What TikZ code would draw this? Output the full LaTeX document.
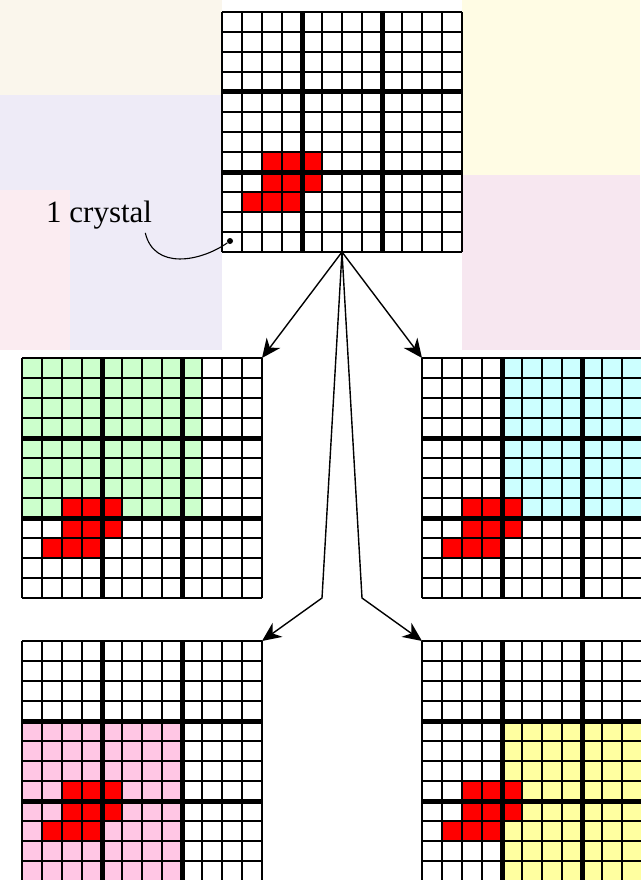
\documentclass[tikz,border=0pt]{standalone}
\usepackage{fontspec}
\setmainfont{Liberation Serif}
\usetikzlibrary{arrows.meta,calc,positioning}

\definecolor{winGreen}{RGB}{204,255,204}
\definecolor{winCyan}{RGB}{204,255,255}
\definecolor{winPink}{RGB}{255,198,228}
\definecolor{winYellow}{RGB}{255,255,160}
\definecolor{bgCream}{RGB}{250,246,236}
\definecolor{bgLavender}{RGB}{238,235,247}
\definecolor{bgPink}{RGB}{251,236,241}
\definecolor{bgYellow}{RGB}{255,252,228}
\definecolor{bgRose}{RGB}{247,231,240}

% 12x12 crystal lattice with the 3x3 block grid drawn on top
\newcommand\crystalgrid[1]{%
  \foreach \c/\r in {2/7,3/7,4/7,2/8,3/8,4/8,1/9,2/9,3/9}
    \fill[red] ($(#1.north west)+(20*\c,20*\r)$) rectangle ++(20,20);
  \foreach \k in {0,...,12} {
    \draw[thin grid] ($(#1.north west)+(20*\k,0)$) -- ++(0,240);
    \draw[thin grid] ($(#1.north west)+(0,20*\k)$) -- ++(240,0);
  }
  \foreach \k in {4,8} {
    \draw[thick grid] ($(#1.north west)+(20*\k,0)$) -- ++(0,240);
    \draw[thick grid] ($(#1.north west)+(0,20*\k)$) -- ++(240,0);
  }
}

\begin{document}
\begin{tikzpicture}[
  x=1pt, y=-1pt,
  frame/.style={minimum size=240pt, inner sep=0pt, outer sep=0pt, anchor=north west},
  thin grid/.style={draw=black, line width=1.4pt},
  thick grid/.style={draw=black, line width=5pt},
  arrow/.style={-{Stealth[length=19pt,width=17pt,inset=6pt]}, line width=1.4pt, draw=black},
  leader/.style={line width=1.1pt, draw=black}
]
  \useasboundingbox (0,0) rectangle (640,880);

  % faint backdrop
  \fill[bgCream] (0,0) rectangle (222,95);
  \fill[bgLavender] (0,95) rectangle (222,350);
  \fill[bgPink] (0,190) rectangle (70,350);
  \fill[bgYellow] (462,0) rectangle (640,175);
  \fill[bgRose] (462,175) rectangle (640,350);

  \node[frame] (whole) at (222,12) {};
  \node[frame] (topLeft) at (22,358) {};
  \node[frame] (topRight) at (422,358) {};
  \node[frame] (botLeft) at (22,641) {};
  \node[frame] (botRight) at (422,641) {};

  % search windows
  \fill[white] (whole.north west) rectangle (whole.south east);
  \fill[white] (topLeft.north west) rectangle (topLeft.south east);
  \fill[winGreen] (topLeft.north west) rectangle ++(180,160);
  \fill[white] (topRight.north west) rectangle (topRight.south east);
  \fill[winCyan] ($(topRight.north west)+(80,0)$) rectangle ++(160,160);
  \fill[white] (botLeft.north west) rectangle (botLeft.south east);
  \fill[winPink] ($(botLeft.north west)+(0,80)$) rectangle ++(160,160);
  \fill[white] (botRight.north west) rectangle (botRight.south east);
  \fill[winYellow] ($(botRight.north west)+(80,80)$) rectangle ++(160,160);

  \crystalgrid{whole}
  \crystalgrid{topLeft}
  \crystalgrid{topRight}
  \crystalgrid{botLeft}
  \crystalgrid{botRight}

  \node[circle, fill=black, inner sep=0pt, minimum size=6pt] (dot) at (230,241) {};
  \node[anchor=base west, inner sep=0pt, font=\fontsize{31}{36}\selectfont] (crystal) at (46,222) {1 crystal};
  \draw[leader] ([shift={(-7,4)}]crystal.south east) .. controls (154,270) and (200,262) .. (dot);

  \coordinate (bendLeft) at ($(topLeft.south east)+(60,0)$);
  \coordinate (bendRight) at ($(topRight.south west)+(-60,0)$);
  \draw[arrow] (whole.south) -- (topLeft.north east);
  \draw[arrow] (whole.south) -- (topRight.north west);
  \draw[arrow] (whole.south) -- (bendLeft) -- (botLeft.north east);
  \draw[arrow] (whole.south) -- (bendRight) -- (botRight.north west);
\end{tikzpicture}
\end{document}
